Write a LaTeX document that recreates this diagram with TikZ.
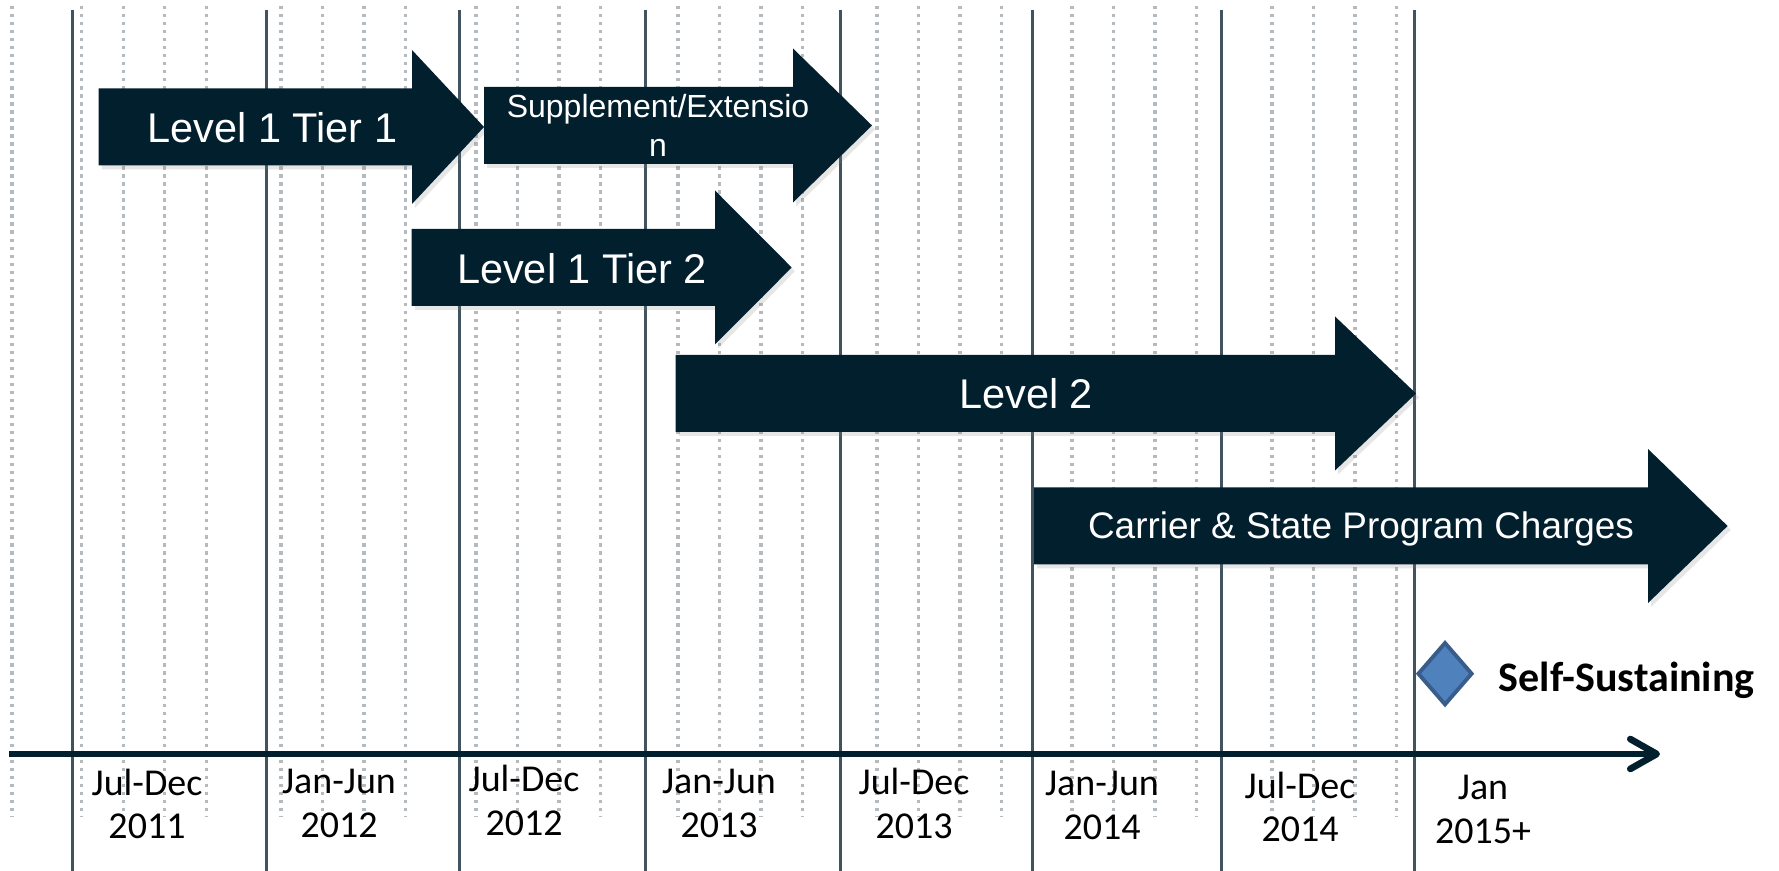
\documentclass[tikz,border=0pt]{standalone}
\usepackage{fontspec}
\setmainfont{Carlito}
\newfontfamily\arialfont{Liberation Sans}
\usetikzlibrary{arrows.meta,shapes.geometric,shadows}

\definecolor{barnavy}{HTML}{021F2E}
\definecolor{halfgray}{HTML}{40535F}
\definecolor{monthgray}{HTML}{B5BABF}
\definecolor{msfill}{HTML}{4F81BD}
\definecolor{msline}{HTML}{385D8A}

\begin{document}
\begin{tikzpicture}[x=0.01cm, y=-0.01cm,
    monthline/.style={monthgray, line width=0.95pt, dash pattern=on 0.95pt off 1.33pt},
    halfline/.style={halfgray, line width=0.77pt},
    phase/.style={fill=barnavy, drop shadow={opacity=0.2, shadow xshift=0.9pt, shadow yshift=-1.1pt}},
    phasetext/.style={text=white, inner sep=0pt, anchor=base, font=\arialfont\fontsize{11.8}{14}\selectfont},
    period/.style={inner sep=0pt, anchor=base, align=center, font=\fontsize{10.8}{12.4}\selectfont}]
  \useasboundingbox (0,0) rectangle (1779,871);

  % month grid
  \draw[monthline] (12,6) -- (12,817);
  \foreach \s in {81.7,281,476,678,877,1072,1272} {
      \foreach \k in {0,...,3} {
          \draw[monthline] (\s+41.5*\k,6) -- (\s+41.5*\k,817);
      }
  }

  % half-year lines
  \foreach \x in {72.6,266.6,459.2,645.6,840.7,1032.8,1221.8,1414.7} {
      \draw[halfline] (\x,10) -- (\x,871);
  }

  % phase arrows
  \foreach \xa/\xb/\xc/\yc in {98.7/412/484/127, 484/793/872/125.5, 411.7/715/791.7/267.5,
                              675.5/1335/1416/393.5, 1034/1648/1727.6/526} {
      \fill[phase] (\xa,\yc-38.5) -- (\xb,\yc-38.5) -- (\xb,\yc-77) -- (\xc,\yc)
          -- (\xb,\yc+77) -- (\xb,\yc+38.5) -- (\xa,\yc+38.5) -- cycle;
  }

  \node[phasetext] (l1t1) at (272.5,143) {Level 1 Tier 1};
  \node[phasetext, align=center, font=\arialfont\fontsize{9.1}{11.1}\selectfont]
      (supext) at (658,156.7) {Supplement/Extensio\\n};
  \node[phasetext] (l1t2) at (582,284) {Level 1 Tier 2};
  \node[phasetext] (lvl2) at (1026,408.5) {Level 2};
  \node[phasetext, font=\arialfont\fontsize{10.5}{12.6}\selectfont]
      (carrier) at (1361,539) {Carrier \& State Program Charges};

  % time axis
  \coordinate (axisL) at (9,754);
  \coordinate (axisR) at (1660,754);
  \draw[barnavy, line width=1.9pt, -{Straight Barb[round, length=7.5pt, width=8.5pt]}] (axisL) -- (axisR);

  % periods
  \node[period] (p1) at (147,839) {Jul-Dec\\2011};
  \node[period] (p2) at (339,837.5) {Jan-Jun\\2012};
  \node[period] (p3) at (524,835.5) {Jul-Dec\\2012};
  \node[period] (p4) at (719,837.5) {Jan-Jun\\2013};
  \node[period] (p5) at (914,838.5) {Jul-Dec\\2013};
  \node[period] (p6) at (1102,839.5) {Jan-Jun\\2014};
  \node[period] (p7) at (1300,842) {Jul-Dec\\2014};
  \node[period] (p8) at (1483,843.5) {Jan\\2015+};

  % milestone
  \node[diamond, draw=msline, fill=msfill, line width=1.1pt, inner sep=0pt,
        minimum width=15.6pt, minimum height=17.9pt] (selfsus) at (1445,673.7) {};
  \node[inner sep=0pt, anchor=base west, font=\bfseries\fontsize{11.95}{14}\selectfont]
      (selflbl) at (1498,691.7) {Self-Sustaining};
\end{tikzpicture}
\end{document}
